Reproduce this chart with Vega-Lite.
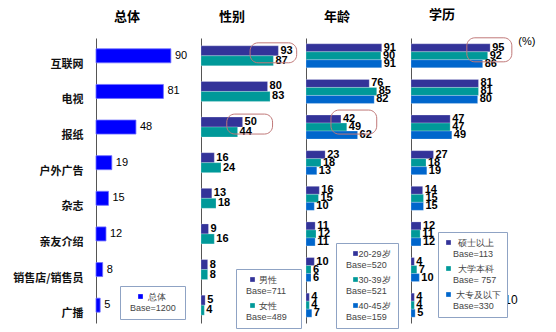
{
  "$schema": "https://vega.github.io/schema/vega-lite/v6.json",
  "padding": {"left": 12, "top": 8, "right": 2, "bottom": 4},
  "background": "white",
  "spacing": 0,
  "resolve": {"scale": {"x": "independent", "y": "independent", "yOffset": "independent", "color": "independent"}, "legend": {"color": "independent"}, "axis": {"y": "independent"}},
  "config": {
    "view": {"stroke": null},
    "font": "Noto Sans CJK SC",
    "title": {"font": "Noto Sans CJK SC", "fontSize": 13, "fontWeight": "bold", "color": "#000", "anchor": "start", "frame": "group", "dx": 18, "offset": 14},
    "axisY": {"domainColor": "#555", "domainWidth": 1, "ticks": false, "title": null, "labelFont": "Noto Sans CJK SC", "labelFontSize": 11, "labelFontWeight": "bold", "labelColor": "#111", "labelPadding": 13, "labelOffset": 9},
    "legend": {"orient": "none", "strokeColor": "#8fa3c4", "fillColor": "white", "padding": 6, "symbolType": "square", "symbolSize": 22, "symbolStrokeWidth": 0, "labelFont": "Liberation Sans", "labelFontSize": 9, "labelColor": "#444", "rowPadding": 5, "title": null}
  },
  "datasets": {
    "p1": [
      {"cat": "互联网", "group": "总体", "value": 90},
      {"cat": "电视", "group": "总体", "value": 81},
      {"cat": "报纸", "group": "总体", "value": 48},
      {"cat": "户外广告", "group": "总体", "value": 19},
      {"cat": "杂志", "group": "总体", "value": 15},
      {"cat": "亲友介绍", "group": "总体", "value": 12},
      {"cat": "销售店/销售员", "group": "总体", "value": 8},
      {"cat": "广播", "group": "总体", "value": 5}
    ],
    "p2": [
      {"cat": "互联网", "group": "男性", "value": 93},
      {"cat": "电视", "group": "男性", "value": 80},
      {"cat": "报纸", "group": "男性", "value": 50},
      {"cat": "户外广告", "group": "男性", "value": 16},
      {"cat": "杂志", "group": "男性", "value": 13},
      {"cat": "亲友介绍", "group": "男性", "value": 9},
      {"cat": "销售店/销售员", "group": "男性", "value": 8},
      {"cat": "广播", "group": "男性", "value": 5},
      {"cat": "互联网", "group": "女性", "value": 87},
      {"cat": "电视", "group": "女性", "value": 83},
      {"cat": "报纸", "group": "女性", "value": 44},
      {"cat": "户外广告", "group": "女性", "value": 24},
      {"cat": "杂志", "group": "女性", "value": 18},
      {"cat": "亲友介绍", "group": "女性", "value": 16},
      {"cat": "销售店/销售员", "group": "女性", "value": 8},
      {"cat": "广播", "group": "女性", "value": 4}
    ],
    "p3": [
      {"cat": "互联网", "group": "20-29岁", "value": 91},
      {"cat": "电视", "group": "20-29岁", "value": 76},
      {"cat": "报纸", "group": "20-29岁", "value": 42},
      {"cat": "户外广告", "group": "20-29岁", "value": 23},
      {"cat": "杂志", "group": "20-29岁", "value": 16},
      {"cat": "亲友介绍", "group": "20-29岁", "value": 11},
      {"cat": "销售店/销售员", "group": "20-29岁", "value": 10},
      {"cat": "广播", "group": "20-29岁", "value": 4},
      {"cat": "互联网", "group": "30-39岁", "value": 90},
      {"cat": "电视", "group": "30-39岁", "value": 85},
      {"cat": "报纸", "group": "30-39岁", "value": 49},
      {"cat": "户外广告", "group": "30-39岁", "value": 18},
      {"cat": "杂志", "group": "30-39岁", "value": 15},
      {"cat": "亲友介绍", "group": "30-39岁", "value": 12},
      {"cat": "销售店/销售员", "group": "30-39岁", "value": 6},
      {"cat": "广播", "group": "30-39岁", "value": 4},
      {"cat": "互联网", "group": "40-45岁", "value": 91},
      {"cat": "电视", "group": "40-45岁", "value": 82},
      {"cat": "报纸", "group": "40-45岁", "value": 62},
      {"cat": "户外广告", "group": "40-45岁", "value": 13},
      {"cat": "杂志", "group": "40-45岁", "value": 10},
      {"cat": "亲友介绍", "group": "40-45岁", "value": 11},
      {"cat": "销售店/销售员", "group": "40-45岁", "value": 6},
      {"cat": "广播", "group": "40-45岁", "value": 7}
    ],
    "p4": [
      {"cat": "互联网", "group": "硕士以上", "value": 95},
      {"cat": "电视", "group": "硕士以上", "value": 81},
      {"cat": "报纸", "group": "硕士以上", "value": 47},
      {"cat": "户外广告", "group": "硕士以上", "value": 27},
      {"cat": "杂志", "group": "硕士以上", "value": 14},
      {"cat": "亲友介绍", "group": "硕士以上", "value": 12},
      {"cat": "销售店/销售员", "group": "硕士以上", "value": 4},
      {"cat": "广播", "group": "硕士以上", "value": 4},
      {"cat": "互联网", "group": "大学本科", "value": 92},
      {"cat": "电视", "group": "大学本科", "value": 81},
      {"cat": "报纸", "group": "大学本科", "value": 47},
      {"cat": "户外广告", "group": "大学本科", "value": 18},
      {"cat": "杂志", "group": "大学本科", "value": 15},
      {"cat": "亲友介绍", "group": "大学本科", "value": 11},
      {"cat": "销售店/销售员", "group": "大学本科", "value": 7},
      {"cat": "广播", "group": "大学本科", "value": 4},
      {"cat": "互联网", "group": "大专及以下", "value": 86},
      {"cat": "电视", "group": "大专及以下", "value": 80},
      {"cat": "报纸", "group": "大专及以下", "value": 49},
      {"cat": "户外广告", "group": "大专及以下", "value": 19},
      {"cat": "杂志", "group": "大专及以下", "value": 15},
      {"cat": "亲友介绍", "group": "大专及以下", "value": 12},
      {"cat": "销售店/销售员", "group": "大专及以下", "value": 10},
      {"cat": "广播", "group": "大专及以下", "value": 5}
    ],
    "box2": [
      {"cat": "互联网", "x1": 59, "x2": 115},
      {"cat": "报纸", "x1": 31, "x2": 86}
    ],
    "box3": [
      {"cat": "报纸", "x1": 30, "x2": 85}
    ],
    "box4": [
      {"cat": "互联网", "x1": 67, "x2": 121}
    ],
    "pct4": [
      {"cat": "互联网", "x": 139, "note": "(%)"}
    ],
    "page4": [
      {"cat": "广播", "x": 120, "note": "10"}
    ]
  },
  "hconcat": [
    {
      "width": 104,
      "height": 285,
      "title": {"text": "总体"},
      "data": {"name": "p1"},
      "encoding": {
        "y": {"field": "cat", "type": "nominal", "sort": ["互联网", "电视", "报纸", "户外广告", "杂志", "亲友介绍", "销售店/销售员", "广播"], "scale": {"paddingInner": 0.607, "paddingOuter": 0.3035}, "axis": {"labels": true}},
        "x": {"field": "value", "type": "quantitative", "scale": {"domain": [0, 125]}, "axis": null}
      },
      "layer": [
        {
          "mark": {"type": "bar", "stroke": "#6f6fff", "strokeWidth": 0.8},
          "encoding": {
            "color": {"field": "group", "type": "nominal", "scale": {"domain": ["总体"], "range": ["#0000ff"]},
              "legend": {"legendX": 24, "legendY": 248, "symbolOffset": 10, "labelOffset": -15, "labelExpr": "['\u200b\u00a0\u00a0\u00a0\u00a0\u00a0\u00a0\u00a0总体', 'Base=1200\u00a0\u200b']"}}
          }
        },
        {
          "mark": {"type": "text", "align": "left", "baseline": "middle", "dx": 4, "font": "Liberation Sans", "fontSize": 11, "color": "#000"},
          "encoding": {"text": {"field": "value", "type": "quantitative"}}
        }
      ]
    },
    {
      "width": 104,
      "height": 285,
      "title": {"text": "性别"},
      "encoding": {
        "y": {"field": "cat", "type": "nominal", "sort": ["互联网", "电视", "报纸", "户外广告", "杂志", "亲友介绍", "销售店/销售员", "广播"], "scale": {"paddingInner": 0.44, "paddingOuter": 0.22}, "axis": {"labels": false}},
        "x": {"field": "value", "type": "quantitative", "scale": {"domain": [0, 125]}, "axis": null}
      },
      "layer": [
        {
          "data": {"name": "p2"},
          "mark": {"type": "bar", "stroke": "#ffffff", "strokeOpacity": 0.4, "strokeWidth": 0.6},
          "encoding": {
            "yOffset": {"field": "group", "type": "nominal", "sort": ["男性", "女性"]},
            "color": {"field": "group", "type": "nominal", "scale": {"domain": ["男性", "女性"], "range": ["#333399", "#009999"]},
              "legend": {"legendX": 35, "legendY": 231, "symbolOffset": 6, "labelOffset": -11, "labelExpr": "datum.label == '男性' ? ['\u200b\u00a0\u00a0\u00a0\u00a0\u00a0男性', 'Base=711\u00a0\u00a0\u00a0\u200b'] : ['\u200b\u00a0\u00a0\u00a0\u00a0\u00a0女性', 'Base=489\u00a0\u00a0\u00a0\u200b']"}}
          }
        },
        {
          "data": {"name": "p2"},
          "mark": {"type": "text", "align": "left", "baseline": "middle", "dx": 2, "font": "Liberation Sans", "fontSize": 11, "fontWeight": "bold", "color": "#000"},
          "encoding": {
            "yOffset": {"field": "group", "type": "nominal", "sort": ["男性", "女性"]},
            "text": {"field": "value", "type": "quantitative"}
          }
        },
        {
          "data": {"name": "box2"},
          "mark": {"type": "rect", "fill": null, "stroke": "#c07878", "strokeWidth": 1, "cornerRadius": 8, "yOffset": -3, "y2Offset": 5},
          "encoding": {
            "x": {"field": "x1", "type": "quantitative"},
            "x2": {"field": "x2"}
          }
        }
      ]
    },
    {
      "width": 104,
      "height": 285,
      "title": {"text": "年龄"},
      "encoding": {
        "y": {"field": "cat", "type": "nominal", "sort": ["互联网", "电视", "报纸", "户外广告", "杂志", "亲友介绍", "销售店/销售员", "广播"], "scale": {"paddingInner": 0.326, "paddingOuter": 0.163}, "axis": {"labels": false}},
        "x": {"field": "value", "type": "quantitative", "scale": {"domain": [0, 125]}, "axis": null}
      },
      "layer": [
        {
          "data": {"name": "p3"},
          "mark": {"type": "bar", "stroke": "#ffffff", "strokeOpacity": 0.4, "strokeWidth": 0.6},
          "encoding": {
            "yOffset": {"field": "group", "type": "nominal", "sort": ["20-29岁", "30-39岁", "40-45岁"]},
            "color": {"field": "group", "type": "nominal", "scale": {"domain": ["20-29岁", "30-39岁", "40-45岁"], "range": ["#333399", "#009999", "#0066cc"]},
              "legend": {"legendX": 30, "legendY": 205, "symbolOffset": 9, "labelOffset": -14, "labelExpr": "datum.label == '20-29岁' ? ['\u200b\u00a0\u00a0\u00a0\u00a0\u00a020-29岁', 'Base=520\u00a0\u00a0\u200b'] : datum.label == '30-39岁' ? ['\u200b\u00a0\u00a0\u00a0\u00a0\u00a030-39岁', 'Base=521\u00a0\u00a0\u200b'] : ['\u200b\u00a0\u00a0\u00a0\u00a0\u00a040-45岁', 'Base=159\u00a0\u00a0\u200b']"}}
          }
        },
        {
          "data": {"name": "p3"},
          "mark": {"type": "text", "align": "left", "baseline": "middle", "dx": 2, "font": "Liberation Sans", "fontSize": 11, "fontWeight": "bold", "color": "#000"},
          "encoding": {
            "yOffset": {"field": "group", "type": "nominal", "sort": ["20-29岁", "30-39岁", "40-45岁"]},
            "text": {"field": "value", "type": "quantitative"}
          }
        },
        {
          "data": {"name": "box3"},
          "mark": {"type": "rect", "fill": null, "stroke": "#c07878", "strokeWidth": 1, "cornerRadius": 8, "yOffset": -5, "y2Offset": 5},
          "encoding": {
            "x": {"field": "x1", "type": "quantitative"},
            "x2": {"field": "x2"}
          }
        }
      ]
    },
    {
      "width": 130,
      "height": 285,
      "title": {"text": "学历"},
      "encoding": {
        "y": {"field": "cat", "type": "nominal", "sort": ["互联网", "电视", "报纸", "户外广告", "杂志", "亲友介绍", "销售店/销售员", "广播"], "scale": {"paddingInner": 0.326, "paddingOuter": 0.163}, "axis": {"labels": false}},
        "x": {"field": "value", "type": "quantitative", "scale": {"domain": [0, 156]}, "axis": null}
      },
      "layer": [
        {
          "data": {"name": "p4"},
          "mark": {"type": "bar", "stroke": "#ffffff", "strokeOpacity": 0.4, "strokeWidth": 0.6},
          "encoding": {
            "yOffset": {"field": "group", "type": "nominal", "sort": ["硕士以上", "大学本科", "大专及以下"]},
            "color": {"field": "group", "type": "nominal", "scale": {"domain": ["硕士以上", "大学本科", "大专及以下"], "range": ["#333399", "#009999", "#0066cc"]},
              "legend": {"legendX": 27, "legendY": 194, "symbolOffset": 0, "labelOffset": 0, "labelExpr": "datum.label == '硕士以上' ? ['\u200b\u00a0\u00a0硕士以上', 'Base=113'] : datum.label == '大学本科' ? ['\u200b\u00a0\u00a0大学本科', 'Base= 757'] : ['\u200b\u00a0大专及以下', 'Base=330']"}}
          }
        },
        {
          "data": {"name": "p4"},
          "mark": {"type": "text", "align": "left", "baseline": "middle", "dx": 2, "font": "Liberation Sans", "fontSize": 11, "fontWeight": "bold", "color": "#000"},
          "encoding": {
            "yOffset": {"field": "group", "type": "nominal", "sort": ["硕士以上", "大学本科", "大专及以下"]},
            "text": {"field": "value", "type": "quantitative"}
          }
        },
        {
          "data": {"name": "box4"},
          "mark": {"type": "rect", "fill": null, "stroke": "#c07878", "strokeWidth": 1, "cornerRadius": 8, "yOffset": -6, "y2Offset": 4},
          "encoding": {
            "x": {"field": "x1", "type": "quantitative"},
            "x2": {"field": "x2"}
          }
        },
        {
          "data": {"name": "pct4"},
          "mark": {"type": "text", "align": "center", "baseline": "middle", "font": "Liberation Sans", "fontSize": 11, "color": "#000", "dy": -14},
          "encoding": {
            "x": {"field": "x", "type": "quantitative"},
            "text": {"field": "note"}
          }
        },
        {
          "data": {"name": "page4"},
          "mark": {"type": "text", "align": "center", "baseline": "middle", "font": "Liberation Sans", "fontSize": 12, "color": "#000", "dy": -5},
          "encoding": {
            "x": {"field": "x", "type": "quantitative"},
            "text": {"field": "note"}
          }
        }
      ]
    }
  ]
}
